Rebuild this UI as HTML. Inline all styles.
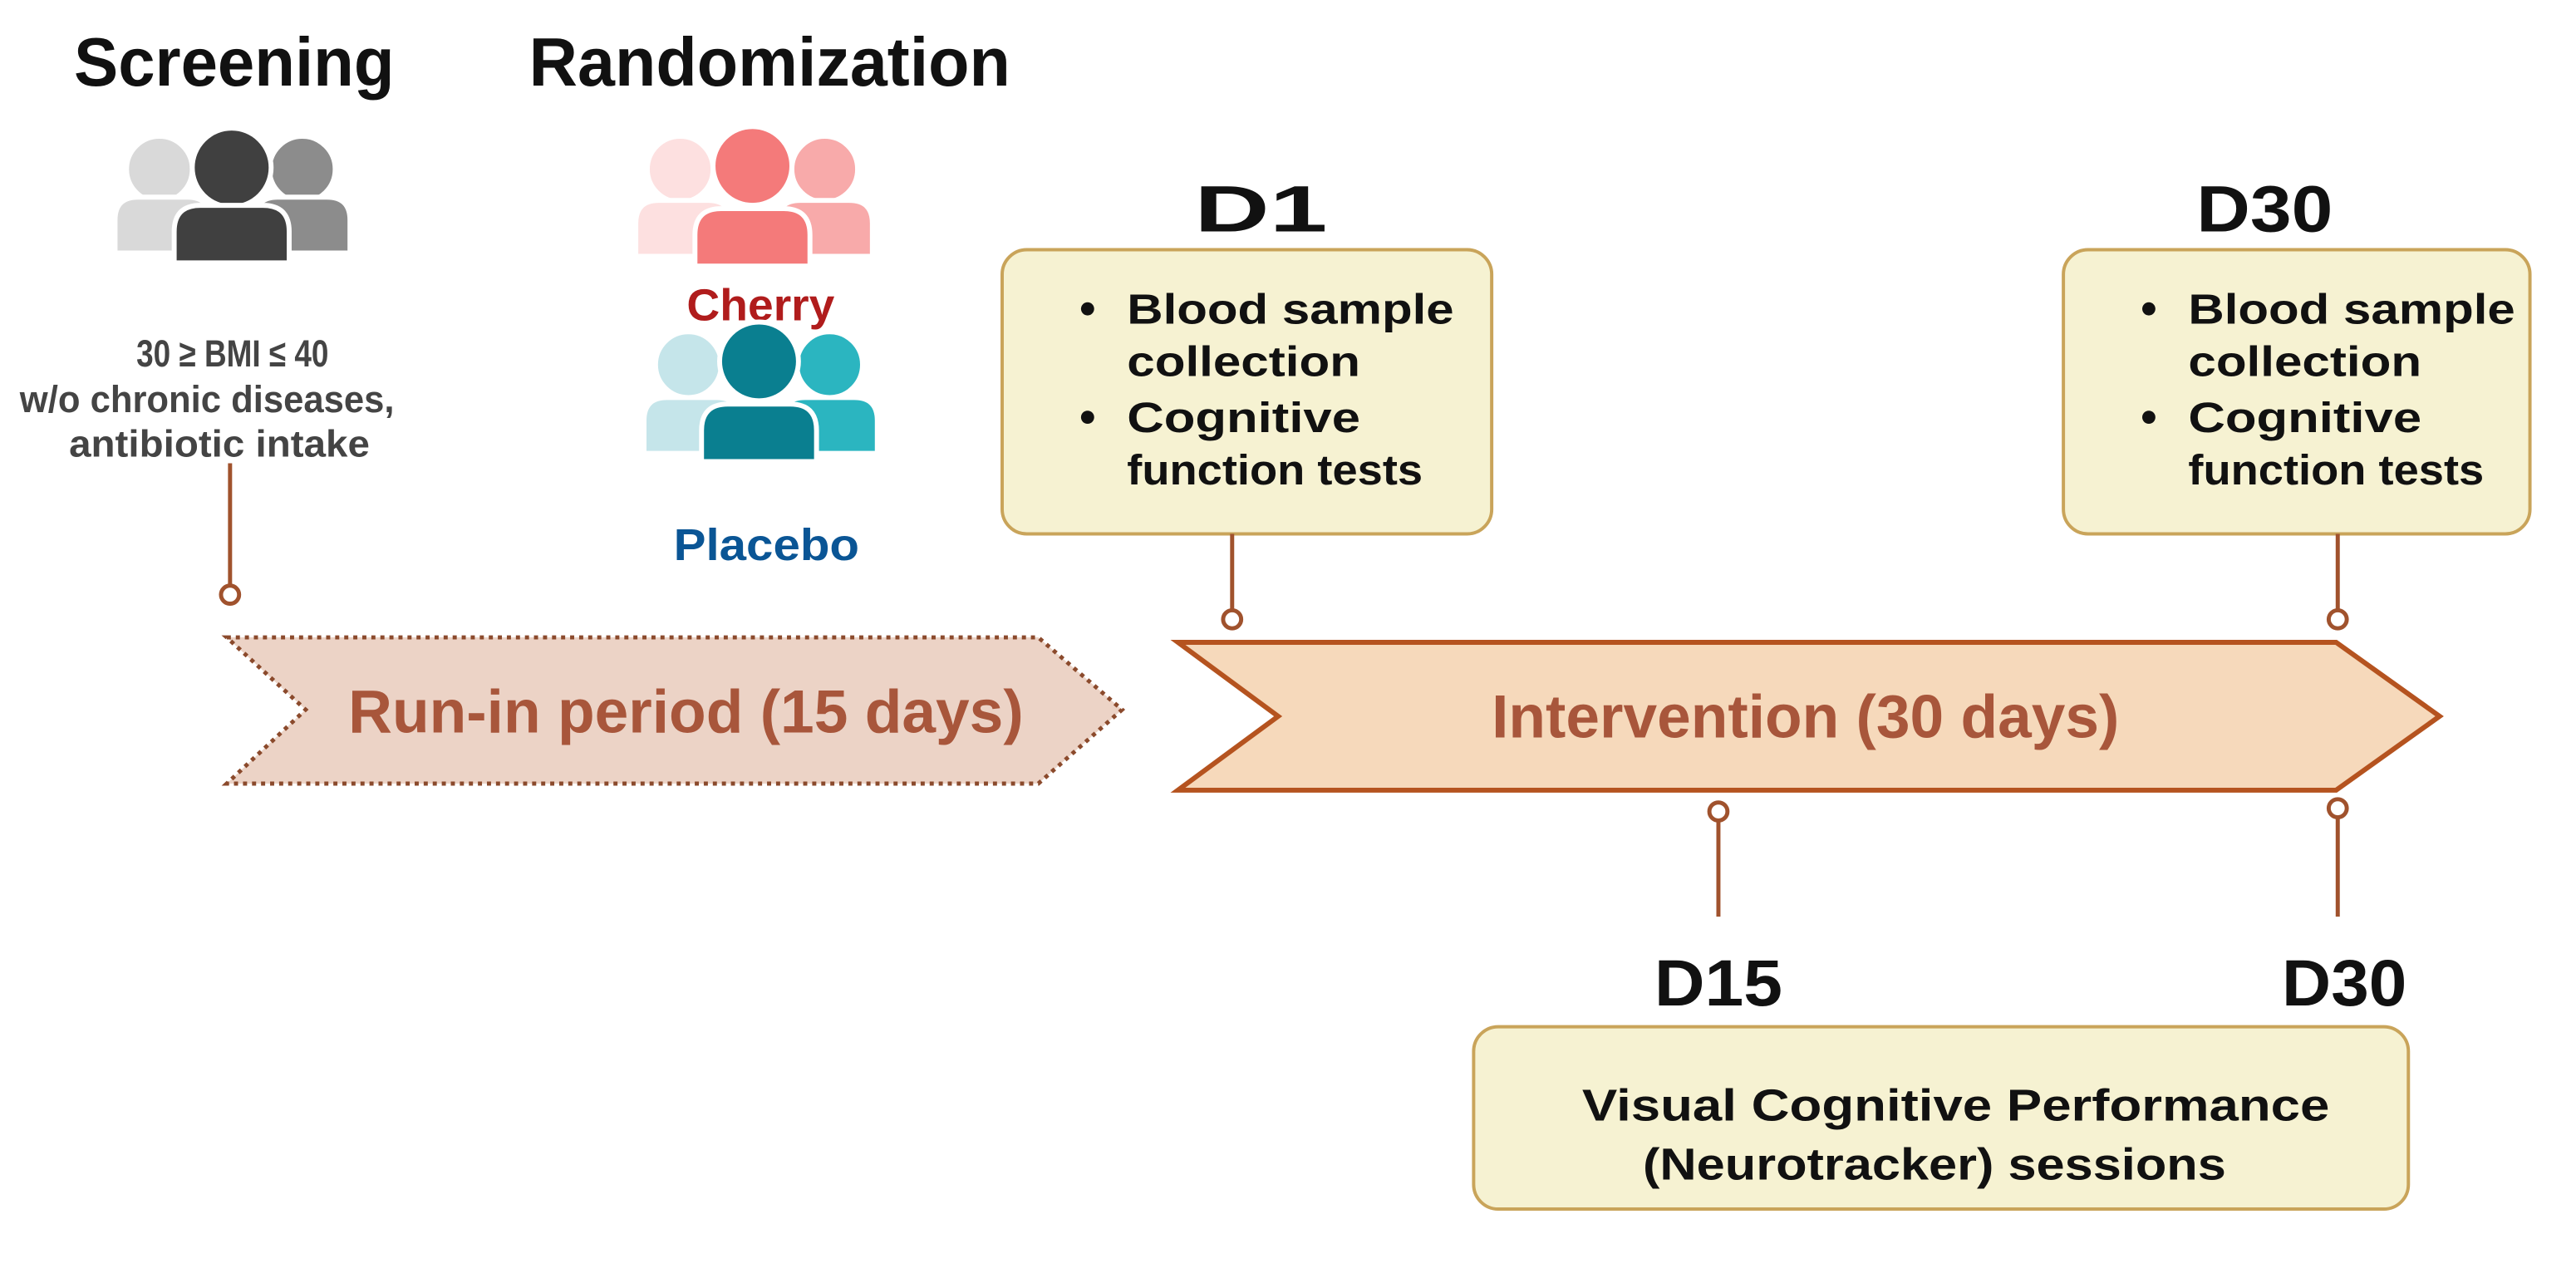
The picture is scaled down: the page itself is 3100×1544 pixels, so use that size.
<!DOCTYPE html>
<html><head><meta charset="utf-8"><style>
html,body{margin:0;padding:0;background:#fff;}
svg{display:block;}
text{font-family:"Liberation Sans",sans-serif;font-weight:bold;}
</style></head><body>
<svg width="3100" height="1544" viewBox="0 0 1568 781" xmlns="http://www.w3.org/2000/svg">
<rect width="1568" height="781" fill="#fff"/>
<text x="45" y="52" font-size="42" textLength="195" lengthAdjust="spacingAndGlyphs" fill="#111">Screening</text>
<text x="322" y="52" font-size="42" textLength="293" lengthAdjust="spacingAndGlyphs" fill="#111">Randomization</text>

<!-- screening people -->
<g stroke="#fff" stroke-width="3">
<circle cx="97" cy="103" r="20" fill="#d9d9d9"/>
<path d="M70 154 V134 Q70 120 84 120 H114 Q128 120 128 134 V154 Z" fill="#d9d9d9"/>
<circle cx="184" cy="103" r="20" fill="#8c8c8c"/>
<path d="M155 154 V134 Q155 120 169 120 H199 Q213 120 213 134 V154 Z" fill="#8c8c8c"/>
<circle cx="141" cy="102" r="24" fill="#404040"/>
<path d="M106 160 V141 Q106 125 122 125 H160 Q176 125 176 141 V160 Z" fill="#404040"/>
</g>
<g fill="#444" font-size="23">
<text x="83" y="223" textLength="117" lengthAdjust="spacingAndGlyphs">30 ≥ BMI ≤ 40</text>
<text x="12" y="251" textLength="228" lengthAdjust="spacingAndGlyphs">w/o chronic diseases,</text>
<text x="42" y="278" textLength="183" lengthAdjust="spacingAndGlyphs">antibiotic intake</text>
</g>

<!-- cherry people -->
<g stroke="#fff" stroke-width="3">
<circle cx="414" cy="103" r="20" fill="#fde0e0"/>
<path d="M387 156 V136 Q387 122 401 122 H431 Q445 122 445 136 V156 Z" fill="#fde0e0"/>
<circle cx="502" cy="103" r="20" fill="#f8aaaa"/>
<path d="M473 156 V136 Q473 122 487 122 H517 Q531 122 531 136 V156 Z" fill="#f8aaaa"/>
<circle cx="458" cy="101" r="24" fill="#f47a7a"/>
<path d="M423 162 V143 Q423 127 439 127 H477 Q493 127 493 143 V162 Z" fill="#f47a7a"/>
</g>
<text x="418" y="195" font-size="27" textLength="90" lengthAdjust="spacingAndGlyphs" fill="#b01c1c">Cherry</text>

<!-- placebo people -->
<g stroke="#fff" stroke-width="3">
<circle cx="419" cy="222" r="20" fill="#c5e5ea"/>
<path d="M392 276 V256 Q392 242 406 242 H436 Q450 242 450 256 V276 Z" fill="#c5e5ea"/>
<circle cx="505" cy="222" r="20" fill="#2bb5c0"/>
<path d="M476 276 V256 Q476 242 490 242 H520 Q534 242 534 256 V276 Z" fill="#2bb5c0"/>
<circle cx="462" cy="220" r="24" fill="#0a7f90"/>
<path d="M427 281 V262 Q427 246 443 246 H481 Q497 246 497 262 V281 Z" fill="#0a7f90"/>
</g>
<text x="410" y="341" font-size="27" textLength="113" lengthAdjust="spacingAndGlyphs" fill="#0a5595">Placebo</text>

<line x1="140" y1="282" x2="140" y2="356" stroke="#a0522d" stroke-width="2.5"/>
<circle cx="140" cy="362" r="5.5" fill="#fff" stroke="#a0522d" stroke-width="2.5"/>

<path d="M138 388 H632 L683 432 L632 477 H138 L186 432 Z" fill="#ecd3c6" stroke="#8b4a2c" stroke-width="2.5" stroke-dasharray="2.5 3"/>
<text x="212" y="446" font-size="37" textLength="411" lengthAdjust="spacingAndGlyphs" fill="#a8563b">Run-in period (15 days)</text>

<path d="M717 391 H1422 L1485 436 L1422 481 H717 L778 436 Z" fill="#f6d9bb" stroke="#b5531f" stroke-width="3"/>
<text x="908" y="449" font-size="37" textLength="382" lengthAdjust="spacingAndGlyphs" fill="#a8563b">Intervention (30 days)</text>

<text x="727" y="141" font-size="40" textLength="81" lengthAdjust="spacingAndGlyphs" fill="#111">D1</text>
<rect x="610" y="152" width="298" height="173" rx="15" fill="#f6f2d2" stroke="#c9a45a" stroke-width="2"/>
<g fill="#111" font-size="26">
<circle cx="662" cy="188" r="4"/><circle cx="662" cy="254" r="4"/>
<text x="686" y="197" textLength="199" lengthAdjust="spacingAndGlyphs">Blood sample</text>
<text x="686" y="229" textLength="142" lengthAdjust="spacingAndGlyphs">collection</text>
<text x="686" y="263" textLength="142" lengthAdjust="spacingAndGlyphs">Cognitive</text>
<text x="686" y="295" textLength="180" lengthAdjust="spacingAndGlyphs">function tests</text>
</g>
<line x1="750" y1="325" x2="750" y2="371" stroke="#a0522d" stroke-width="2.5"/>
<circle cx="750" cy="377" r="5.5" fill="#fff" stroke="#a0522d" stroke-width="2.5"/>

<text x="1337" y="141" font-size="40" textLength="83" lengthAdjust="spacingAndGlyphs" fill="#111">D30</text>
<rect x="1256" y="152" width="284" height="173" rx="15" fill="#f6f2d2" stroke="#c9a45a" stroke-width="2"/>
<g fill="#111" font-size="26">
<circle cx="1308" cy="188" r="4"/><circle cx="1308" cy="254" r="4"/>
<text x="1332" y="197" textLength="199" lengthAdjust="spacingAndGlyphs">Blood sample</text>
<text x="1332" y="229" textLength="142" lengthAdjust="spacingAndGlyphs">collection</text>
<text x="1332" y="263" textLength="142" lengthAdjust="spacingAndGlyphs">Cognitive</text>
<text x="1332" y="295" textLength="180" lengthAdjust="spacingAndGlyphs">function tests</text>
</g>
<line x1="1423" y1="325" x2="1423" y2="371" stroke="#a0522d" stroke-width="2.5"/>
<circle cx="1423" cy="377" r="5.5" fill="#fff" stroke="#a0522d" stroke-width="2.5"/>

<line x1="1046" y1="499" x2="1046" y2="558" stroke="#a0522d" stroke-width="2.5"/>
<circle cx="1046" cy="494" r="5.5" fill="#fff" stroke="#a0522d" stroke-width="2.5"/>
<line x1="1423" y1="498" x2="1423" y2="558" stroke="#a0522d" stroke-width="2.5"/>
<circle cx="1423" cy="492" r="5.5" fill="#fff" stroke="#a0522d" stroke-width="2.5"/>

<text x="1007" y="612" font-size="40" textLength="78" lengthAdjust="spacingAndGlyphs" fill="#111">D15</text>
<text x="1389" y="612" font-size="40" textLength="76" lengthAdjust="spacingAndGlyphs" fill="#111">D30</text>

<rect x="897" y="625" width="569" height="111" rx="15" fill="#f6f2d2" stroke="#c9a45a" stroke-width="2"/>
<text x="963" y="682" font-size="27" textLength="455" lengthAdjust="spacingAndGlyphs" fill="#111">Visual Cognitive Performance</text>
<text x="1000" y="718" font-size="27" textLength="355" lengthAdjust="spacingAndGlyphs" fill="#111">(Neurotracker) sessions</text>
</svg>
</body></html>
